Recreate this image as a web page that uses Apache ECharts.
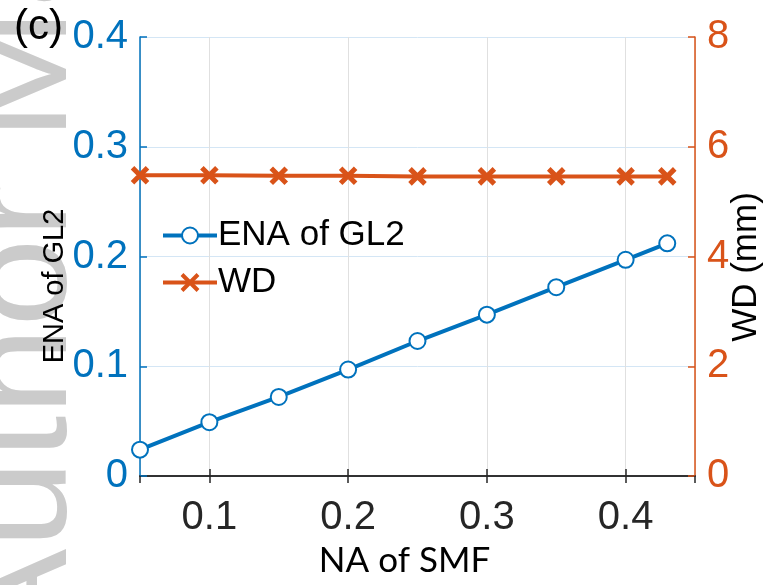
<!DOCTYPE html>
<html>
<head>
<meta charset="utf-8">
<script src="https://cdn.jsdelivr.net/npm/echarts@6/dist/echarts.min.js"></script>
<style>
  html, body { margin: 0; padding: 0; background: #fff; }
  #main { width: 765px; height: 585px; }
</style>
</head>
<body>
<div id="main"></div>
<script>
// NA of SMF (x)
var naSMF = [0.05, 0.1, 0.15, 0.2, 0.25, 0.3, 0.35, 0.4, 0.43];
// ENA of GL2 (left axis)
var enaGL2 = [0.024, 0.049, 0.072, 0.097, 0.123, 0.147, 0.172, 0.197, 0.212];
// WD in mm (right axis)
var wdMM = [5.48, 5.48, 5.47, 5.47, 5.46, 5.46, 5.46, 5.46, 5.46];

var blue = '#0072BD';
var orange = '#D95319';
var dark = '#262626';

function pairs(xs, ys) {
    var out = [];
    for (let i = 0; i < xs.length; i++) {
        out.push([xs[i], ys[i]]);
    }
    return out;
}

var myChart = echarts.init(document.getElementById('main'));

var option = {
    animation: false,
    backgroundColor: '#fff',
    grid: { left: 140, right: 70, top: 37, bottom: 109, outerBoundsMode: 'none', containLabel: false },
    graphic: [
        {   // watermark
            type: 'text', x: 99, y: 655, rotation: Math.PI / 2, scaleX: 1.1, z: -10, silent: true,
            style: {
                text: 'Author Manuscript', fill: '#cbcbcb',
                font: '145px "Liberation Sans"', textAlign: 'left', textVerticalAlign: 'bottom'
            }
        },
        {
            type: 'text', left: 14, top: 6, z: 10,
            style: { text: '(c)', fill: '#000', font: '42px "Liberation Sans"' }
        },
        {   // left axis title
            type: 'text', x: 55, y: 286, rotation: Math.PI / 2, z: 10,
            style: {
                text: 'ENA of GL2', fill: '#000', font: '29px "Liberation Sans"',
                textAlign: 'center', textVerticalAlign: 'middle'
            }
        },
        {   // right axis title
            type: 'text', x: 746, y: 267, rotation: Math.PI / 2, z: 10,
            style: {
                text: 'WD (mm)', fill: '#000', font: '35px "Liberation Sans"',
                textAlign: 'center', textVerticalAlign: 'middle'
            }
        }
    ],
    legend: {
        left: 156, top: 213, orient: 'vertical',
        itemWidth: 54, itemHeight: 20, itemGap: 12,
        textStyle: { fontFamily: 'Liberation Sans', fontSize: 35, color: '#000', padding: [0, 0, 0, -4] },
        lineStyle: { width: 4 },
        itemStyle: { borderWidth: 4 },
        data: ['ENA of GL2', 'WD']
    },
    xAxis: [{
        type: 'value', min: 0.05, max: 0.45, splitNumber: 4,
        name: 'NA of SMF', nameLocation: 'middle', nameGap: 60,
        nameTextStyle: { fontFamily: 'Lato', fontSize: 35, color: '#000', padding: [0, 26, 0, 0] },
        axisLine: { show: true, lineStyle: { color: dark, width: 1.5 } },
        axisTick: { inside: true, length: 7, lineStyle: { color: dark, width: 1.5 } },
        axisLabel: {
            showMinLabel: false, showMaxLabel: false, margin: 22,
            fontFamily: 'Liberation Sans', fontSize: 40, color: dark
        },
        splitLine: { show: true, lineStyle: { color: '#e0e0e0', width: 1 } }
    }, {
        type: 'value', position: 'top', min: 0.05, max: 0.45, splitNumber: 4,
        axisLine: { show: true, lineStyle: { color: dark, width: 1.5 } },
        axisTick: { inside: true, length: 7, lineStyle: { color: dark, width: 1.5 } },
        axisLabel: { show: false },
        splitLine: { show: false }
    }],
    yAxis: [{
        type: 'value', min: 0, max: 0.4, interval: 0.1, position: 'left',
        axisLine: { show: true, lineStyle: { color: blue, width: 1.5 } },
        axisTick: { show: true, inside: true, length: 7, lineStyle: { color: blue, width: 1.5 } },
        axisLabel: { margin: 12, fontFamily: 'Liberation Sans', fontSize: 40, color: blue },
        splitLine: { show: true, lineStyle: { color: '#d4e6f5', width: 1 } }
    }, {
        type: 'value', min: 0, max: 8, interval: 2, position: 'right',
        axisLine: { show: true, lineStyle: { color: orange, width: 1.5 } },
        axisTick: { show: true, inside: true, length: 7, lineStyle: { color: orange, width: 1.5 } },
        axisLabel: { margin: 12, fontFamily: 'Liberation Sans', fontSize: 40, color: orange },
        splitLine: { show: false }
    }],
    series: [{
        name: 'ENA of GL2', type: 'line', xAxisIndex: 0, yAxisIndex: 0,
        data: pairs(naSMF, enaGL2),
        symbol: 'emptyCircle', symbolSize: 16,
        lineStyle: { color: blue, width: 4 },
        itemStyle: { color: blue, borderColor: blue, borderWidth: 4 },
        z: 3
    }, {
        name: 'WD', type: 'line', xAxisIndex: 0, yAxisIndex: 1,
        data: pairs(naSMF, wdMM),
        symbol: 'path://M0,0L16,16M16,0L0,16', symbolSize: 15,
        lineStyle: { color: orange, width: 4 },
        itemStyle: { color: orange, borderColor: orange, borderWidth: 5 },
        z: 2
    }]
};

myChart.setOption(option);
</script>
</body>
</html>
